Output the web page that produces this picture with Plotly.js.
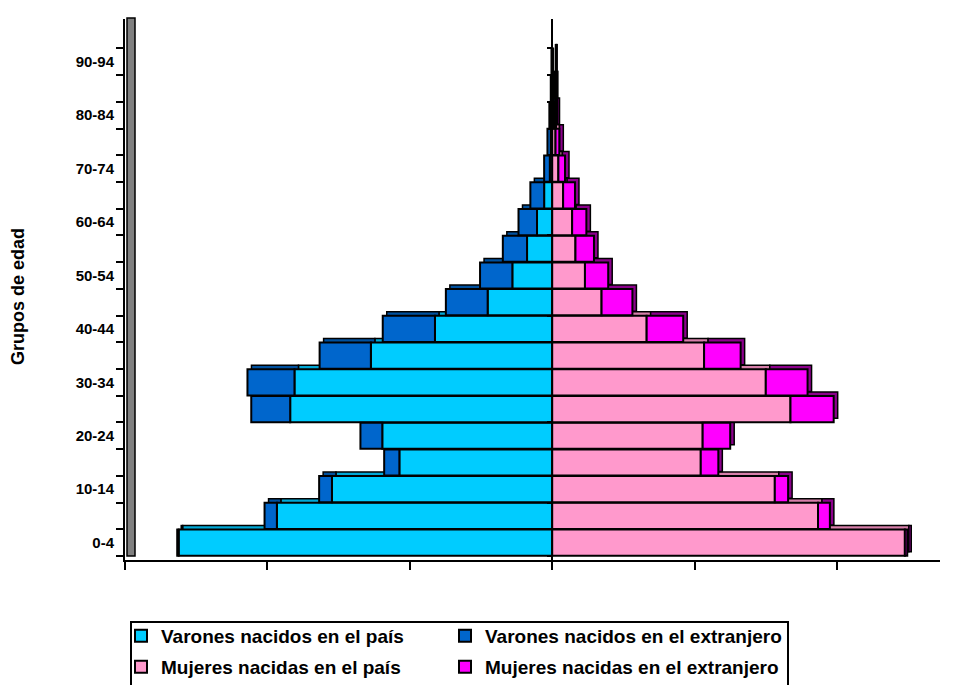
<!DOCTYPE html>
<html>
<head>
<meta charset="utf-8">
<script src="https://cdn.plot.ly/plotly-3.0.1.min.js"></script>
<style>html,body{margin:0;padding:0;background:#fff;}#chart{width:969px;height:685px;}</style>
</head>
<body>
<div id="chart"></div>
<script>
const ageGroups = ["0-4","5-9","10-14","15-19","20-24","25-29","30-34","35-39","40-44","45-49","50-54","55-59","60-64","65-69","70-74","75-79","80-84","85-89","90-94"];
const tickLabels = ["0-4","","10-14","","20-24","","30-34","","40-44","","50-54","","60-64","","70-74","","80-84","","90-94"];
const menNative   = [7.87,5.80,4.64,3.22,3.58,5.52,5.43,3.82,2.47,1.36,0.84,0.53,0.32,0.17,0.05,0.03,0.02,0.01,0.005];
const menForeign  = [0.03,0.26,0.27,0.32,0.46,0.82,0.99,1.08,1.10,0.88,0.68,0.51,0.39,0.29,0.12,0.07,0.04,0.02,0.01];
const womenNative = [7.43,5.60,4.69,3.13,3.17,5.02,4.50,3.20,1.99,1.04,0.69,0.49,0.42,0.23,0.13,0.07,0.03,0.015,0.01];
const womenForeign= [0.05,0.25,0.28,0.37,0.58,0.91,0.88,0.77,0.77,0.65,0.49,0.39,0.30,0.25,0.14,0.08,0.04,0.02,0.01];
const seriesNames = ["Varones nacidos en el país","Varones nacidos en el extranjero","Mujeres nacidas en el país","Mujeres nacidas en el extranjero"];
const colors = ["#00CCFF","#0066CC","#FF99CC","#FF00FF"];
const depthColors = ["#00A8D6","#00519F","#D77FAA","#8C008C"];
const xTicks = [-9,-6,-3,0,3,6];

// geometry of the plot area (pixels)
const W = 969, H = 685, L = 125, R = 29, T = 19, B = 125;
const PW = W - L - R, PH = H - T - B;
const xRange = [-9, 8.17];
const yRange = [-0.65, 19.6];
const depthPx = 4;
const dx = depthPx * (xRange[1] - xRange[0]) / PW;
const dy = depthPx * (yRange[1] - yRange[0]) / PH;
const px = p => (p - L) / PW;
const py = p => (H - B - p) / PH;

const neg = a => a.map(v => -v);
const series = [neg(menNative), neg(menForeign), womenNative, womenForeign];
const legendIds = ['legend', 'legend3', 'legend2', 'legend4'];

// back (depth) faces, shifted up-right
const backTraces = series.map((vals, i) => ({
  type: 'bar', orientation: 'h', x: vals, y: ageGroups,
  xaxis: 'x2', yaxis: 'y2', showlegend: false, hoverinfo: 'none',
  marker: {color: depthColors[i], line: {color: '#000', width: 1.5}}
}));
// front faces
const frontTraces = series.map((vals, i) => ({
  type: 'bar', orientation: 'h', x: vals, y: ageGroups,
  xaxis: 'x3', yaxis: 'y3', name: seriesNames[i], hoverinfo: 'none',
  legend: legendIds[i],
  marker: {color: colors[i], line: {color: '#000', width: 2}}
}));
const axisHolder = {type: 'scatter', x: [], y: [], xaxis: 'x', yaxis: 'y', showlegend: false, hoverinfo: 'none'};
const centerTicks = {type: 'scatter', x: [], y: [], xaxis: 'x', yaxis: 'y4', showlegend: false, hoverinfo: 'none'};

const catAxis = {type: 'category', categoryorder: 'array', categoryarray: ageGroups, tickvals: ageGroups};
const legendFont = {size: 19, family: 'Liberation Sans, Arial, sans-serif', weight: 'bold', color: '#000'};
const legendBase = {orientation: 'h', xanchor: 'left', yanchor: 'middle', borderwidth: 0, bgcolor: 'rgba(0,0,0,0)', font: legendFont};

const layout = {
  width: W, height: H,
  margin: {l: L, r: R, t: T, b: B, autoexpand: false},
  paper_bgcolor: '#fff', plot_bgcolor: '#fff',
  barmode: 'relative', bargap: 0.02,
  font: {family: 'Liberation Sans, Arial, sans-serif', color: '#000'},
  xaxis: {
    range: xRange, tickvals: xTicks, showticklabels: false,
    ticks: 'outside', ticklen: 8, tickwidth: 2, tickcolor: '#000',
    showline: true, linecolor: '#000', linewidth: 2,
    showgrid: false, zeroline: true, zerolinecolor: '#000', zerolinewidth: 2
  },
  yaxis: Object.assign({}, catAxis, {
    range: yRange, ticktext: tickLabels, tickson: 'boundaries',
    ticks: 'outside', ticklen: 7, tickwidth: 2, tickcolor: '#000', ticklabelstandoff: 6,
    tickfont: {size: 15, family: 'Liberation Sans, Arial, sans-serif', weight: 'bold'},
    showline: true, linecolor: '#000', linewidth: 2, showgrid: false
  }),
  xaxis2: {overlaying: 'x', range: [xRange[0] - dx, xRange[1] - dx], visible: false},
  yaxis2: Object.assign({}, catAxis, {overlaying: 'y', range: [yRange[0] - dy, yRange[1] - dy], visible: false}),
  xaxis3: {overlaying: 'x', range: xRange, visible: false},
  yaxis3: Object.assign({}, catAxis, {overlaying: 'y', range: yRange, visible: false}),
  yaxis4: Object.assign({}, catAxis, {
    overlaying: 'y', anchor: 'free', position: (0 - xRange[0]) / (xRange[1] - xRange[0]),
    side: 'left', range: yRange, tickson: 'boundaries', showticklabels: false,
    ticks: 'outside', ticklen: 5, tickwidth: 2, tickcolor: '#000', showline: false, showgrid: false
  }),
  annotations: [{
    text: '<b>Grupos de edad</b>', xref: 'paper', yref: 'paper',
    x: px(18), y: py(297), xanchor: 'center', yanchor: 'middle', textangle: -90, showarrow: false,
    font: {size: 18, color: '#000'}
  }],
  shapes: [
    {type: 'rect', xref: 'paper', yref: 'paper', x0: px(127), x1: px(135), y0: py(556), y1: py(18),
     fillcolor: '#808080', line: {color: '#000', width: 1.5}, layer: 'above'},
    {type: 'rect', xref: 'paper', yref: 'paper', x0: px(131), x1: px(788), y0: py(622), y1: py(700),
     fillcolor: 'rgba(0,0,0,0)', line: {color: '#000', width: 2}}
  ],
  showlegend: true,
  legend:  Object.assign({}, legendBase, {x: px(121), y: py(636)}),
  legend2: Object.assign({}, legendBase, {x: px(121), y: py(667)}),
  legend3: Object.assign({}, legendBase, {x: px(445), y: py(636)}),
  legend4: Object.assign({}, legendBase, {x: px(445), y: py(667)})
};

Plotly.newPlot('chart', [axisHolder].concat(backTraces, frontTraces, [centerTicks]), layout, {displayModeBar: false, staticPlot: true});
</script>
</body>
</html>
